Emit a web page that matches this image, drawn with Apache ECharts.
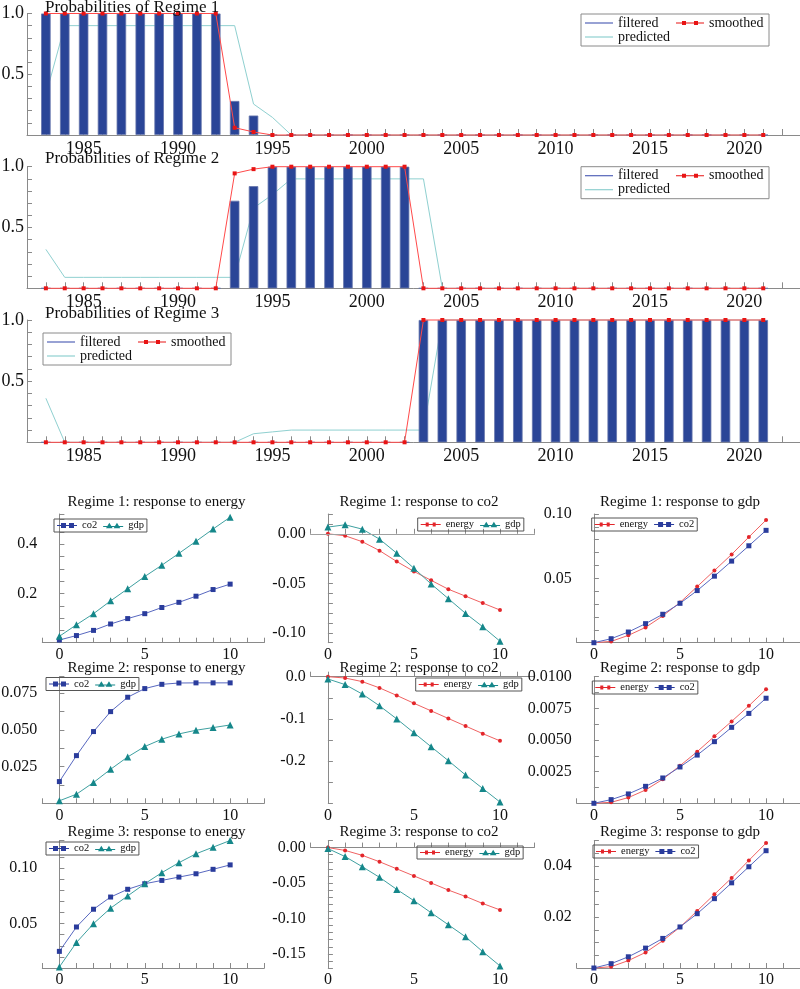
<!DOCTYPE html>
<html><head><meta charset="utf-8">
<script src="https://cdn.jsdelivr.net/npm/echarts@6/dist/echarts.min.js"></script>
<style>html,body{margin:0;padding:0;background:#fff}#c{width:800px;height:989px}</style>
</head><body><div id="c"></div>
<script>
// ---------- DATA ----------
const years = [1983,1984,1985,1986,1987,1988,1989,1990,1991,1992,1993,1994,1995,1996,1997,1998,1999,2000,2001,2002,2003,2004,2005,2006,2007,2008,2009,2010,2011,2012,2013,2014,2015,2016,2017,2018,2019,2020,2021];

const reg1Filtered  = [1,1,1,1,1,1,1,1,1,1,0.28,0.16,0,0,0,0,0,0,0,0,0,0,0,0,0,0,0,0,0,0,0,0,0,0,0,0,0,0,0];
const reg1Smoothed  = [1,1,1,1,1,1,1,1,1,1,0.06,0.025,0,0,0,0,0,0,0,0,0,0,0,0,0,0,0,0,0,0,0,0,0,0,0,0,0,0,0];
const reg1Predicted = [0.33,0.9,0.9,0.9,0.9,0.9,0.9,0.9,0.9,0.9,0.9,0.255,0.145,0,0,0,0,0,0,0,0,0,0,0,0,0,0,0,0,0,0,0,0,0,0,0,0,0,0];

const reg2Filtered  = [0,0,0,0,0,0,0,0,0,0,0.72,0.84,1,1,1,1,1,1,1,1,0,0,0,0,0,0,0,0,0,0,0,0,0,0,0,0,0,0,0];
const reg2Smoothed  = [0,0,0,0,0,0,0,0,0,0,0.945,0.98,1,1,1,1,1,1,1,1,0,0,0,0,0,0,0,0,0,0,0,0,0,0,0,0,0,0,0];
const reg2Predicted = [0.32,0.09,0.09,0.09,0.09,0.09,0.09,0.09,0.09,0.09,0.09,0.66,0.77,0.9,0.9,0.9,0.9,0.9,0.9,0.9,0.9,0,0,0,0,0,0,0,0,0,0,0,0,0,0,0,0,0,0];

const reg3Filtered  = [0,0,0,0,0,0,0,0,0,0,0,0,0,0,0,0,0,0,0,0,1,1,1,1,1,1,1,1,1,1,1,1,1,1,1,1,1,1,1];
const reg3Smoothed  = [0,0,0,0,0,0,0,0,0,0,0,0,0,0,0,0,0,0,0,0,1,1,1,1,1,1,1,1,1,1,1,1,1,1,1,1,1,1,1];
const reg3Predicted = [0.36,0,0,0,0,0,0,0,0,0,0,0.07,0.085,0.1,0.1,0.1,0.1,0.1,0.1,0.1,0.1,1,1,1,1,1,1,1,1,1,1,1,1,1,1,1,1,1,1];

const horizons = [0,1,2,3,4,5,6,7,8,9,10];

const r1EnergyCo2 = [0.011,0.029,0.050,0.076,0.098,0.118,0.143,0.164,0.189,0.216,0.238];
const r1EnergyGdp = [0.026,0.073,0.118,0.170,0.219,0.269,0.315,0.363,0.412,0.462,0.510];
const r1Co2Energy = [0.000,-0.002,-0.008,-0.017,-0.028,-0.038,-0.047,-0.056,-0.063,-0.070,-0.077];
const r1Co2Gdp    = [0.0068,0.0091,0.0047,-0.0054,-0.0196,-0.0348,-0.0507,-0.0655,-0.0804,-0.0939,-0.1085];
const r1GdpEnergy = [0,0.001,0.0057,0.0119,0.0208,0.0312,0.0436,0.0561,0.0686,0.0821,0.0953];
const r1GdpCo2    = [0,0.0031,0.0083,0.0148,0.0221,0.0306,0.0405,0.0517,0.0634,0.0753,0.0873];

const r2EnergyCo2 = [0.0148,0.0325,0.0489,0.0625,0.0723,0.0782,0.0811,0.0820,0.0821,0.0821,0.0821];
const r2EnergyGdp = [0.0017,0.0062,0.0142,0.0232,0.0316,0.0387,0.0437,0.0473,0.0498,0.0516,0.0534];
const r2Co2Energy = [0,-0.0031,-0.0117,-0.0265,-0.0444,-0.063,-0.081,-0.099,-0.117,-0.135,-0.152];
const r2Co2Gdp    = [-0.0054,-0.0187,-0.0412,-0.069,-0.100,-0.133,-0.166,-0.199,-0.233,-0.265,-0.297];
const r2GdpEnergy = [0,0.00008,0.00045,0.00105,0.0019,0.00297,0.00408,0.00529,0.00647,0.0077,0.0090];
const r2GdpCo2    = [0,0.00029,0.00074,0.00134,0.0020,0.00287,0.00381,0.00487,0.0060,0.0071,0.0083];

const r3EnergyCo2 = [0.025,0.047,0.063,0.074,0.081,0.086,0.089,0.092,0.095,0.099,0.103];
const r3EnergyGdp = [0.011,0.033,0.050,0.064,0.075,0.086,0.096,0.105,0.113,0.119,0.125];
const r3Co2Energy = [0,-0.004,-0.011,-0.020,-0.030,-0.040,-0.050,-0.060,-0.069,-0.079,-0.088];
const r3Co2Gdp    = [-0.0014,-0.0127,-0.027,-0.042,-0.059,-0.075,-0.092,-0.109,-0.126,-0.147,-0.167];
const r3GdpEnergy = [0,0.0005,0.0029,0.0061,0.0107,0.016,0.0224,0.0289,0.0353,0.0422,0.049];
const r3GdpCo2    = [0,0.0017,0.0044,0.0078,0.0116,0.0161,0.0213,0.0272,0.0334,0.0397,0.046];

const probTitles = ['Probabilities of Regime 1','Probabilities of Regime 2','Probabilities of Regime 3'];
const irfTitles = [
  'Regime 1: response to energy','Regime 1: response to co2','Regime 1: response to gdp',
  'Regime 2: response to energy','Regime 2: response to co2','Regime 2: response to gdp',
  'Regime 3: response to energy','Regime 3: response to co2','Regime 3: response to gdp'];
const irfNames = [['co2','gdp'],['energy','gdp'],['energy','co2']];
const irfData = [
  [r1EnergyCo2,r1EnergyGdp],[r1Co2Energy,r1Co2Gdp],[r1GdpEnergy,r1GdpCo2],
  [r2EnergyCo2,r2EnergyGdp],[r2Co2Energy,r2Co2Gdp],[r2GdpEnergy,r2GdpCo2],
  [r3EnergyCo2,r3EnergyGdp],[r3Co2Energy,r3Co2Gdp],[r3GdpEnergy,r3GdpCo2]];
// y axis: [min, max, tick step, label step, decimals]
const irfY = [
  [0,0.523,0.05,0.2,1],[-0.11,0.02,0.01,0.05,2],[0,0.10,0.01,0.05,2],
  [0,0.0863,0.0125,0.025,3],[-0.3,0,0.05,0.1,1],[0,0.01,0.00125,0.0025,4],
  [0.01,0.125,0.01,0.05,2],[-0.17,0.01,0.01,0.05,2],[0,0.05,0.005,0.02,2]];

// ---------- STYLE / LAYOUT ----------
const FONT = '"Liberation Serif","Times New Roman","DejaVu Serif",serif';
const AX = '#8a8a8a';
const seriesStyle = {
  co2:    {symbol:'rect', symbolSize:5, item:'#2a3c9c', line:'#5868c0',
           icon:'path://M0,2H20V3H0Z M4,0H9V5H4Z M12,0H17V5H12Z'},
  gdp:    {symbol:'triangle', symbolSize:7, item:'#15878a', line:'#3ea0a0',
           icon:'path://M0,3.5H21V4.5H0Z M3,6L6.5,0L10,6Z M11,6L14.5,0L18,6Z'},
  energy: {symbol:'circle', symbolSize:4, item:'#e3262b', line:'#f06262',
           icon:'path://M0,1.5H20V2.5H0Z M5,0H8V4H5Z M12,0H15V4H12Z'}
};
const ICON_LINE = 'path://M0,0H28V1.2H0Z';
const ICON_SMOOTH = 'path://M0,1.5H28V2.5H0Z M6,0H10V4H6Z M18,0H22V4H18Z';
const topGrid = [[13.5,121.5],[166.7,121.6],[320,122.3]];
const topTitleTop = [-1.5,149.5,304.5];
const topLegend = [[581,14],[581,166.7],[43,333]];
const colLeft = [42.3,310.7,576.7], colWidth = [222,223.7,223.8];
const rowTop = [514,676.7,840.5], rowHeight = [128.7,126.6,127.5];
const titleCx = [156.5,419,680], titleCy = [502,667.7,832];
const botLegend = [[54,519],[417.7,518],[591.7,518],[46,677.5],[415.7,678],[592.3,681],[46,842],[417,846],[593,845]];

function labelFmt(min, step, dec) {
  return function (v) {
    if (Math.abs(v - min) < 1e-9) return '';
    const k = v / step;
    if (Math.abs(k - Math.round(k)) > 1e-6) return '';
    const vv = Math.abs(v) < 1e-12 ? 0 : v;
    return vv.toFixed(dec);
  };
}
const pairs = (xs, ys) => xs.map((x, i) => [x, ys[i]]);

const grids = [], xAxes = [], yAxes = [], series = [], titles = [], legends = [];

const probData = [
  [reg1Filtered, reg1Smoothed, reg1Predicted],
  [reg2Filtered, reg2Smoothed, reg2Predicted],
  [reg3Filtered, reg3Smoothed, reg3Predicted]];

probData.forEach((p, i) => {
  grids.push({left:27, top:topGrid[i][0], width:774, height:topGrid[i][1], outerBoundsMode:'none'});
  xAxes.push({gridIndex:i, type:'value', min:1982, max:2023, interval:1,
    axisLine:{lineStyle:{color:AX}}, axisTick:{inside:true, length:6, lineStyle:{color:AX}},
    axisLabel:{fontFamily:FONT, fontSize:18, color:'#111', margin:5,
      formatter: v => (Math.abs(v - Math.round(v)) < 1e-6 && Math.round(v) % 5 === 0) ? String(Math.round(v)) : ''},
    splitLine:{show:false}});
  yAxes.push({gridIndex:i, type:'value', min:0, max:1, interval:0.1,
    axisLine:{show:true, lineStyle:{color:AX}}, axisTick:{show:true, inside:true, length:5, lineStyle:{color:AX}},
    axisLabel:{fontFamily:FONT, fontSize:18, color:'#111', margin:3, formatter: labelFmt(0, 0.5, 1)},
    splitLine:{show:false}});
  titles.push({text:probTitles[i], left:45, top:topTitleTop[i], padding:0,
    textStyle:{fontFamily:FONT, fontSize:17, fontWeight:'normal', color:'#111', lineHeight:18}});
  // legend icon carrier for "filtered" (drawn as a line in the legend)
  series.push({type:'line', name:'filtered', xAxisIndex:i, yAxisIndex:i, data:[], symbol:'none',
    lineStyle:{color:'#5464b8', width:1}, itemStyle:{color:'#5464b8'}});
  series.push({type:'line', name:'predicted', xAxisIndex:i, yAxisIndex:i, data:pairs(years, p[2]),
    symbol:'none', lineStyle:{color:'#8fd0d0', width:1}, itemStyle:{color:'#8fd0d0'}, z:1, clip:false});
  series.push({type:'bar', name:'filtered', xAxisIndex:i, yAxisIndex:i, data:pairs(years, p[0]),
    barWidth:9.5, itemStyle:{color:'#2a4597', borderColor:'#6373ab', borderWidth:0.8}, z:2});
  series.push({type:'line', name:'smoothed', xAxisIndex:i, yAxisIndex:i, data:pairs(years, p[1]),
    symbol:'rect', symbolSize:4, lineStyle:{color:'#ff4a4a', width:1}, itemStyle:{color:'#e81414'}, z:3, clip:false});
  legends.push({left:topLegend[i][0], top:topLegend[i][1], orient:'horizontal', width:184,
    itemGap:0, itemWidth:28, itemHeight:10, padding:[2,2,2,4],
    borderColor:'#8a8a8a', borderWidth:1,
    textStyle:{fontFamily:FONT, fontSize:14, color:'#111', width:58, lineHeight:12},
    data:[{name:'filtered', icon:ICON_LINE},{name:'smoothed', icon:ICON_SMOOTH},{name:'predicted', icon:ICON_LINE}]});
});

irfTitles.forEach((t, k) => {
  const r = Math.floor(k / 3), c = k % 3, g = 3 + k;
  const yc = irfY[k];
  grids.push({left:colLeft[c], top:rowTop[r], width:colWidth[c], height:rowHeight[r], outerBoundsMode:'none'});
  xAxes.push({gridIndex:g, type:'value', min:-1, max:12, interval:1,
    axisLine:{lineStyle:{color:AX}}, axisTick:{inside:true, length:5, lineStyle:{color:AX}},
    axisLabel:{fontFamily:FONT, fontSize:16, color:'#111', margin:4,
      formatter: v => (Math.abs(v - Math.round(v)) < 1e-6 && Math.round(v) >= 0 && Math.round(v) % 5 === 0) ? String(Math.round(v)) : ''},
    splitLine:{show:false}});
  yAxes.push({gridIndex:g, type:'value', min:yc[0], max:yc[1], interval:yc[2],
    axisLine:{show:true, lineStyle:{color:AX}}, axisTick:{show:true, inside:true, length:5, lineStyle:{color:AX}},
    axisLabel:{fontFamily:FONT, fontSize:16, color:'#111', margin:5, formatter: labelFmt(yc[0], yc[3], yc[4])},
    splitLine:{show:false}});
  titles.push({text:t, left:titleCx[c], top:titleCy[r] - 8, textAlign:'center', padding:0,
    textStyle:{fontFamily:FONT, fontSize:15, fontWeight:'normal', color:'#111', lineHeight:16}});
  const names = irfNames[c];
  names.forEach((n, j) => {
    const st = seriesStyle[n];
    const s = {type:'line', name:n, xAxisIndex:g, yAxisIndex:g, data:pairs(horizons, irfData[k][j]),
      symbol:st.symbol, symbolSize:st.symbolSize, showSymbol:true, clip:false,
      lineStyle:{color:st.line, width:1}, itemStyle:{color:st.item}, z:3};
    if (k === 1 && j === 0) {
      s.markLine = {silent:true, symbol:'none', label:{show:false}, animation:false,
        lineStyle:{color:'#a0a0a0', width:1, type:'solid'}, data:[{yAxis:0}]};
    }
    series.push(s);
  });
  legends.push({left:botLegend[k][0], top:botLegend[k][1], orient:'horizontal',
    itemGap:6, itemWidth:20, itemHeight:7, padding:[1,3,1,3],
    borderColor:'#555', borderWidth:1,
    textStyle:{fontFamily:FONT, fontSize:10.5, color:'#111', lineHeight:10},
    data:names.map(n => ({name:n, icon:seriesStyle[n].icon}))});
});

const chart = echarts.init(document.getElementById('c'), null, {renderer:'canvas', width:800, height:989});
chart.setOption({
  animation:false,
  backgroundColor:'#ffffff',
  textStyle:{fontFamily:FONT},
  title:titles, legend:legends, grid:grids, xAxis:xAxes, yAxis:yAxes, series:series
});
</script></body></html>
